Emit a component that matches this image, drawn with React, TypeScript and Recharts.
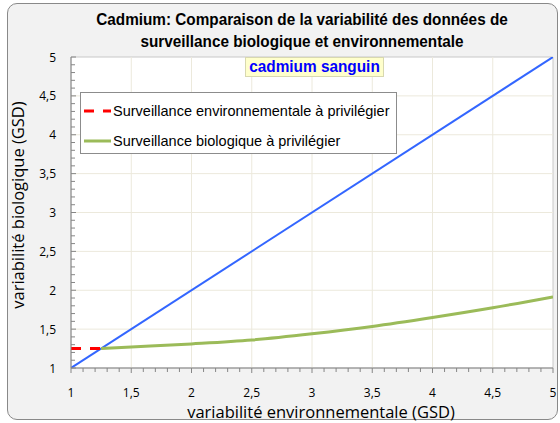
import React from 'react';
import { LineChart, Line, XAxis, YAxis, CartesianGrid, ReferenceArea, ReferenceLine, Legend } from 'recharts';

const titleLines = ['Cadmium: Comparaison de la variabilité des données de', 'surveillance biologique et environnementale'];
const subtitle = 'cadmium sanguin';
const xTitle = 'variabilité environnementale (GSD)';
const yTitle = 'variabilité biologique (GSD)';

const diagonalX = [1, 5];
const diagonalY = [1, 5];
const envX = [1, 1.25];
const envY = [1.25, 1.25];
const bioX = [1.25, 1.5, 2, 2.5, 3, 3.5, 4, 4.5, 5];
const bioY = [1.25, 1.27, 1.31, 1.36, 1.44, 1.535, 1.65, 1.775, 1.915];

const gridValues = [1.5, 2, 2.5, 3, 3.5, 4, 4.5];
const allTicks = [
  1, 1.1, 1.2, 1.3, 1.4, 1.5, 1.6, 1.7, 1.8, 1.9,
  2, 2.1, 2.2, 2.3, 2.4, 2.5, 2.6, 2.7, 2.8, 2.9,
  3, 3.1, 3.2, 3.3, 3.4, 3.5, 3.6, 3.7, 3.8, 3.9,
  4, 4.1, 4.2, 4.3, 4.4, 4.5, 4.6, 4.7, 4.8, 4.9, 5,
];

const legendItems = [
  { name: 'Surveillance environnementale à privilégier', color: '#FF0000', dash: '10 9', width: 3 },
  { name: 'Surveillance biologique à privilégier', color: '#9BBB59', dash: '', width: 3 },
];

const zip = (xs: number[], ys: number[]) => xs.map((x, i) => ({ x, y: ys[i] }));
const diagData = zip(diagonalX, diagonalY);
const envData = zip(envX, envY);
const bioData = zip(bioX, bioY);

const isMajor = (v: number) => Math.abs(v * 2 - Math.round(v * 2)) < 1e-6;
const fmt = (v: number) => String(v).replace('.', ',');

const tickFont = "'Open Sans', 'Liberation Sans', sans-serif";
const axisColor = '#868686';
const gridColor = '#ECE9DC';

const XTick = (props: any) => {
  const { x, y, payload } = props;
  const v = payload.value;
  const major = isMajor(v);
  return (
    <g>
      <line x1={x} x2={x} y1={y} y2={y + (major ? 5 : 4)} stroke={axisColor} strokeWidth={1} />
      {major && (
        <text x={x} y={y + 28.5} textAnchor="middle" fontFamily={tickFont} fontSize={12} fill="#000">
          {fmt(v)}
        </text>
      )}
    </g>
  );
};

const YTick = (props: any) => {
  const { x, y, payload } = props;
  const v = payload.value;
  const major = isMajor(v);
  return (
    <g>
      <line x1={x} x2={x + (major ? 5 : 4)} y1={y} y2={y} stroke={axisColor} strokeWidth={1} />
      {major && (
        <text x={x - 15} y={y + 4.5} textAnchor="end" fontFamily={tickFont} fontSize={12} fill="#000">
          {fmt(v)}
        </text>
      )}
    </g>
  );
};

const LegendBox = () => (
  <div
    style={{
      width: 317,
      height: 62,
      border: '1px solid #8c8c8c',
      background: '#fff',
      boxSizing: 'border-box',
      paddingTop: 4,
    }}
  >
    {legendItems.map((it) => (
      <div key={it.name} style={{ display: 'flex', alignItems: 'center', height: 27, marginBottom: 3 }}>
        <svg width={30} height={10} style={{ marginLeft: 3 }}>
          <line x1={0} x2={27} y1={5} y2={5} stroke={it.color} strokeWidth={it.width} strokeDasharray={it.dash || undefined} />
        </svg>
        <span style={{ fontFamily: "'Liberation Sans', Arial, sans-serif", fontSize: 14.5, color: '#000', whiteSpace: 'nowrap', marginLeft: -1 }}>
          {it.name}
        </span>
      </div>
    ))}
  </div>
);

export default function App() {
  return (
    <div style={{ position: 'absolute', left: 0, top: 0, width: 560, height: 423, background: '#fff' }}>
      <div
        style={{
          position: 'absolute',
          left: 7,
          top: 3,
          width: 551,
          height: 417,
          background: '#F2F2F2',
          border: '1px solid #898989',
          borderRadius: 10,
          boxSizing: 'border-box',
        }}
      />
      <div style={{ position: 'absolute', left: 0, top: 0 }}>
        <LineChart width={560} height={423} margin={{ top: 57, right: 7, bottom: 0, left: 0 }}>
          <CartesianGrid fill="#FFFFFF" horizontal={false} vertical={false} />
          {gridValues.map((v) => (
            <ReferenceLine key={'gx' + v} x={v} stroke={gridColor} strokeWidth={1} />
          ))}
          {gridValues.map((v) => (
            <ReferenceLine key={'gy' + v} y={v} stroke={gridColor} strokeWidth={1} />
          ))}
          <ReferenceArea x1={1} x2={5} y1={1} y2={5} fill="none" stroke="#C8C8C8" strokeWidth={1} />
          <XAxis
            dataKey="x"
            type="number"
            domain={[1, 5]}
            ticks={allTicks}
            interval={0}
            tick={<XTick />}
            tickSize={0}
            tickMargin={0}
            tickLine={false}
            stroke={axisColor}
            height={55}
            allowDataOverflow
          />
          <YAxis
            dataKey="y"
            type="number"
            domain={[1, 5]}
            ticks={allTicks}
            interval={0}
            tick={<YTick />}
            tickSize={0}
            tickMargin={0}
            tickLine={false}
            stroke={axisColor}
            width={71}
            allowDataOverflow
          />
          <Legend
            layout="horizontal"
            verticalAlign="middle"
            align="center"
            content={() => <LegendBox />}
            wrapperStyle={{ left: 80, top: 92, width: 317, height: 62 }}
          />
          <Line data={diagData} dataKey="y" stroke="#3366FF" strokeWidth={2} dot={false} isAnimationActive={false} legendType="none" />
          <Line data={bioData} dataKey="y" type="monotone" stroke="#9BBB59" strokeWidth={3} dot={false} isAnimationActive={false} />
          <Line data={envData} dataKey="y" stroke="#FF0000" strokeWidth={3} strokeDasharray="10 9" dot={false} isAnimationActive={false} />
        </LineChart>
      </div>
      <div
        style={{
          position: 'absolute',
          left: 0,
          top: 9,
          width: 604,
          textAlign: 'center',
          fontFamily: "'Liberation Sans', Arial, sans-serif",
          fontWeight: 'bold',
          fontSize: 17,
          lineHeight: '22px',
          color: '#000',
          whiteSpace: 'nowrap',
          transform: 'scaleX(0.9)',
          transformOrigin: '302px 0',
        }}
      >
        {titleLines.map((t) => (
          <div key={t}>{t}</div>
        ))}
      </div>
      <div
        style={{
          position: 'absolute',
          left: 245,
          top: 57,
          width: 139,
          height: 20,
          background: '#FFFFCC',
          border: '1px solid #D8D8B0',
          boxSizing: 'border-box',
        }}
      >
        <div
          style={{
            width: 137,
            textAlign: 'center',
            fontFamily: "'Liberation Sans', Arial, sans-serif",
            fontWeight: 'bold',
            fontSize: 16,
            lineHeight: '18px',
            color: '#0000FF',
            whiteSpace: 'nowrap',
            transform: 'scaleX(0.96)',
            transformOrigin: '68px 0',
          }}
        >
          {subtitle}
        </div>
      </div>
      <div
        style={{
          position: 'absolute',
          left: 71,
          top: 402,
          width: 500,
          textAlign: 'center',
          fontFamily: tickFont,
          fontSize: 16.5,
          lineHeight: '20px',
          color: '#000',
          whiteSpace: 'nowrap',
        }}
      >
        {xTitle}
      </div>
      <div
        style={{
          position: 'absolute',
          left: 18,
          top: 205,
          width: 0,
          height: 0,
        }}
      >
        <div
          style={{
            position: 'absolute',
            left: -150,
            top: -10,
            width: 300,
            textAlign: 'center',
            transform: 'rotate(-90deg)',
            fontFamily: tickFont,
            fontSize: 16.5,
            lineHeight: '20px',
            color: '#000',
            whiteSpace: 'nowrap',
          }}
        >
          {yTitle}
        </div>
      </div>
    </div>
  );
}
